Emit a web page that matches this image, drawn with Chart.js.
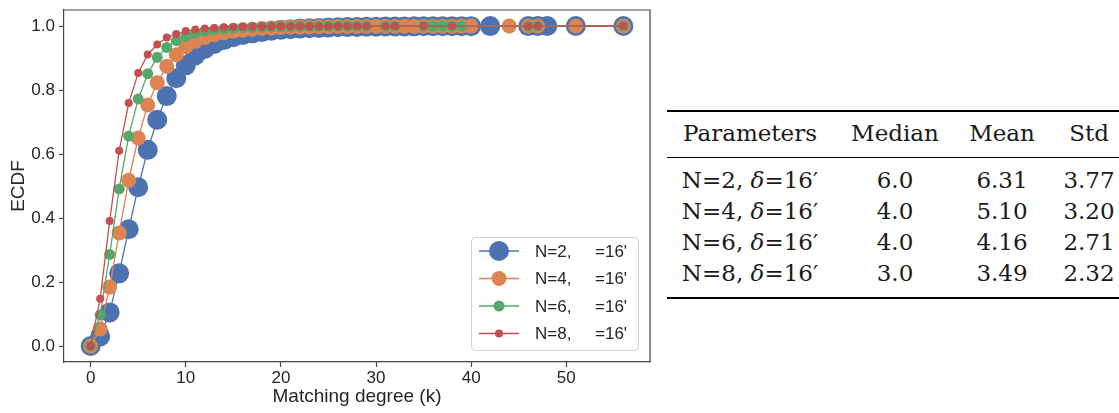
<!DOCTYPE html>
<html lang="en">
<head>
  <meta charset="UTF-8"/>
  <title>ECDF of matching degree</title>
  <script src="https://cdn.jsdelivr.net/npm/chart.js"></script>
  <style>
    body { margin: 0; background: #fff; }
    #wrap { position: relative; width: 1119px; height: 413px; overflow: hidden; }
    #chart { position: absolute; left: 0; top: 0; }
    .cell { position: absolute; transform: translate(-50%, -50%); white-space: nowrap;
            font-family: "DejaVu Serif", serif; font-size: 23px; color: #1a1a1a; }
    .rule { position: absolute; background: #000; }
  </style>
</head>
<body>
<div id="wrap">
  <canvas id="chart" width="660" height="413"></canvas>
</div>

<script>
  // ECDF series
  const labels = ["N=2,     =16'", "N=4,     =16'", "N=6,     =16'", "N=8,     =16'"];
  const colors = ['#4C72B0', '#DD8452', '#55A868', '#C44E52'];
  const radii  = [10, 7.5, 5.5, 4];

  const n2X = [0,1,2,3,4,5,6,7,8,9,10,11,12,13,14,15,16,17,18,19,20,21,22,23,24,25,26,27,28,29,30,
               31,32,33,34,35,36,37,38,39,40,42,46,47,48,51,56];
  const n2Y = [0,0.030,0.105,0.227,0.365,0.496,0.613,0.707,0.781,0.837,0.877,0.908,0.928,0.944,0.956,
               0.965,0.972,0.977,0.981,0.985,0.988,0.990,0.992,0.993,0.994,0.995,0.996,0.9965,0.997,
               0.9975,0.998,0.9983,0.9986,0.9988,0.999,0.9992,0.9993,0.9994,0.9995,0.9996,0.9996,
               0.9997,0.9998,0.9998,0.9999,0.9999,1.0];

  const n4X = [0,1,2,3,4,5,6,7,8,9,10,11,12,13,14,15,16,17,18,19,20,21,22,23,24,25,26,27,28,29,30,
               31,32,33,34,35,36,37,38,39,40,44,46,47,51,56];
  const n4Y = [0,0.053,0.184,0.353,0.518,0.650,0.753,0.823,0.874,0.910,0.935,0.952,0.964,0.973,0.979,
               0.984,0.987,0.990,0.992,0.9935,0.995,0.996,0.9966,0.997,0.9975,0.998,0.9983,0.9985,
               0.9987,0.9989,0.999,0.9991,0.9992,0.9993,0.9994,0.9995,0.9995,0.9996,0.9996,0.9997,
               0.9997,0.9998,0.9998,0.9999,0.9999,1.0];

  const n6X = [0,1,2,3,4,5,6,7,8,9,10,11,12,13,14,15,16,17,18,19,20,21,22,23,24,25,26,27,28,29,
               31,32,35,36,37,38,39,46,47,56];
  const n6Y = [0,0.097,0.286,0.491,0.656,0.772,0.851,0.902,0.933,0.954,0.968,0.977,0.984,0.988,0.991,
               0.993,0.995,0.996,0.997,0.9975,0.998,0.9984,0.9987,0.9989,0.9991,0.9992,0.9993,0.9994,
               0.9995,0.9995,0.9996,0.9996,0.9997,0.9997,0.9998,0.9998,0.9998,0.9999,0.9999,1.0];

  const n8X = [0,1,2,3,4,5,6,7,8,9,10,11,12,13,14,15,16,17,18,19,20,21,22,23,24,25,26,27,28,29,
               31,32,35,38,46,47,56];
  const n8Y = [0,0.148,0.391,0.610,0.759,0.853,0.911,0.942,0.964,0.975,0.984,0.989,0.992,0.994,0.996,
               0.997,0.9975,0.998,0.9985,0.9988,0.999,0.9992,0.9993,0.9994,0.9995,0.9996,0.9996,
               0.9997,0.9997,0.9997,0.9998,0.9998,0.9998,0.9999,0.9999,0.9999,1.0];

  const xTicks = [0, 10, 20, 30, 40, 50];
  const yTicks = [0, 0.2, 0.4, 0.6, 0.8, 1.0];

  // summary table
  const tableHead = ['Parameters', 'Median', 'Mean', 'Std'];
  const tableParams = ['N=2', 'N=4', 'N=6', 'N=8'];
  const medians = ['6.0', '4.0', '4.0', '3.0'];
  const means   = ['6.31', '5.10', '4.16', '3.49'];
  const stds    = ['3.77', '3.20', '2.71', '2.32'];

  const seriesX = [n2X, n4X, n6X, n8X];
  const seriesY = [n2Y, n4Y, n6Y, n8Y];

  const datasets = seriesX.map((xs, i) => ({
    label: labels[i],
    data: xs.map((x, j) => ({x: x, y: seriesY[i][j]})),
    showLine: true,
    borderColor: colors[i],
    backgroundColor: colors[i],
    borderWidth: 1.3,
    pointRadius: radii[i],
    pointBorderWidth: 0,
    pointBackgroundColor: colors[i],
    order: 4 - i,
    clip: false
  }));

  // matplotlib style legend box in the lower right corner
  const boxLegend = {
    id: 'boxLegend',
    afterDraw(chart) {
      const ctx = chart.ctx, area = chart.chartArea;
      const w = 167, h = 113;
      const x0 = area.right - 12 - w, y0 = area.bottom - 12 - h;
      ctx.save();
      ctx.beginPath();
      ctx.roundRect(x0 + 0.5, y0 + 0.5, w, h, 4);
      ctx.fillStyle = 'rgba(255,255,255,0.8)';
      ctx.fill();
      ctx.strokeStyle = '#d0d0d0';
      ctx.lineWidth = 1;
      ctx.stroke();
      ctx.font = '17px "Liberation Sans", Arial, sans-serif';
      ctx.textBaseline = 'middle';
      labels.forEach((lab, i) => {
        const y = y0 + 14 + 27.5 * i;
        ctx.strokeStyle = colors[i];
        ctx.lineWidth = 1.3;
        ctx.beginPath();
        ctx.moveTo(x0 + 8, y);
        ctx.lineTo(x0 + 48, y);
        ctx.stroke();
        ctx.fillStyle = colors[i];
        ctx.beginPath();
        ctx.arc(x0 + 28, y, radii[i], 0, Math.PI * 2);
        ctx.fill();
        ctx.fillStyle = '#262626';
        ctx.fillText(lab, x0 + 64, y + 1);
      });
      ctx.restore();
    }
  };

  // top and right spines
  const frame = {
    id: 'frame',
    afterDraw(chart) {
      const ctx = chart.ctx, a = chart.chartArea;
      ctx.save();
      ctx.strokeStyle = '#444';
      ctx.lineWidth = 1.2;
      ctx.beginPath();
      ctx.moveTo(a.left, a.top); ctx.lineTo(a.right, a.top); ctx.lineTo(a.right, a.bottom);
      ctx.stroke();
      ctx.restore();
    }
  };

  const tickFont = {family: '"Liberation Sans", Arial, sans-serif', size: 17};
  const titleFont = {family: '"Liberation Sans", Arial, sans-serif', size: 19};

  new Chart(document.getElementById('chart').getContext('2d'), {
    type: 'scatter',
    data: { datasets: datasets },
    options: {
      responsive: false,
      animation: false,
      events: [],
      layout: { padding: { top: 5, right: 8, left: 0, bottom: 0 } },
      plugins: { legend: { display: false }, tooltip: { enabled: false } },
      scales: {
        x: {
          type: 'linear', min: -2.8, max: 58.8,
          afterBuildTicks: s => { s.ticks = xTicks.map(v => ({value: v})); },
          afterFit: s => { s.height = 51; s.paddingLeft = 0; s.paddingRight = 0; },
          ticks: { font: tickFont, color: '#262626', padding: 1, maxRotation: 0 },
          grid: { drawOnChartArea: false, tickLength: 5, tickColor: '#444', tickWidth: 1.2 },
          border: { color: '#444', width: 1.2 },
          title: { display: true, text: 'Matching degree (k)', font: titleFont, color: '#262626',
                   padding: { top: 0, bottom: 5 } }
        },
        y: {
          type: 'linear', min: -0.05, max: 1.05,
          afterBuildTicks: s => { s.ticks = yTicks.map(v => ({value: v})); },
          afterFit: s => { s.width = 64; s.paddingTop = 0; s.paddingBottom = 0; },
          ticks: { font: tickFont, color: '#262626', padding: 4, callback: v => v.toFixed(1) },
          grid: { drawOnChartArea: false, tickLength: 5, tickColor: '#444', tickWidth: 1.2 },
          border: { color: '#444', width: 1.2 },
          title: { display: true, text: 'ECDF', font: titleFont, color: '#262626',
                   padding: { top: 7, bottom: 0 } }
        }
      }
    },
    plugins: [boxLegend, frame]
  });

  // the table on the right
  const wrap = document.getElementById('wrap');
  const colX = [750, 895, 1002, 1089];
  function addCell(html, x, y) {
    const d = document.createElement('div');
    d.className = 'cell';
    d.innerHTML = html;
    d.style.left = x + 'px';
    d.style.top = y + 'px';
    wrap.appendChild(d);
  }
  function addRule(y, t) {
    const d = document.createElement('div');
    d.className = 'rule';
    d.style.left = '667px';
    d.style.width = '452px';
    d.style.top = (y - t / 2) + 'px';
    d.style.height = t + 'px';
    wrap.appendChild(d);
  }
  addRule(111, 2);
  tableHead.forEach((h, c) => addCell(h, colX[c], 133));
  addRule(157, 1);
  tableParams.forEach((p, r) => {
    const y = 180 + 31 * r;
    addCell(p + ', <i>δ</i>=16′', colX[0], y);
    addCell(medians[r], colX[1], y);
    addCell(means[r], colX[2], y);
    addCell(stds[r], colX[3], y);
  });
  addRule(298, 2);
</script>
</body>
</html>
